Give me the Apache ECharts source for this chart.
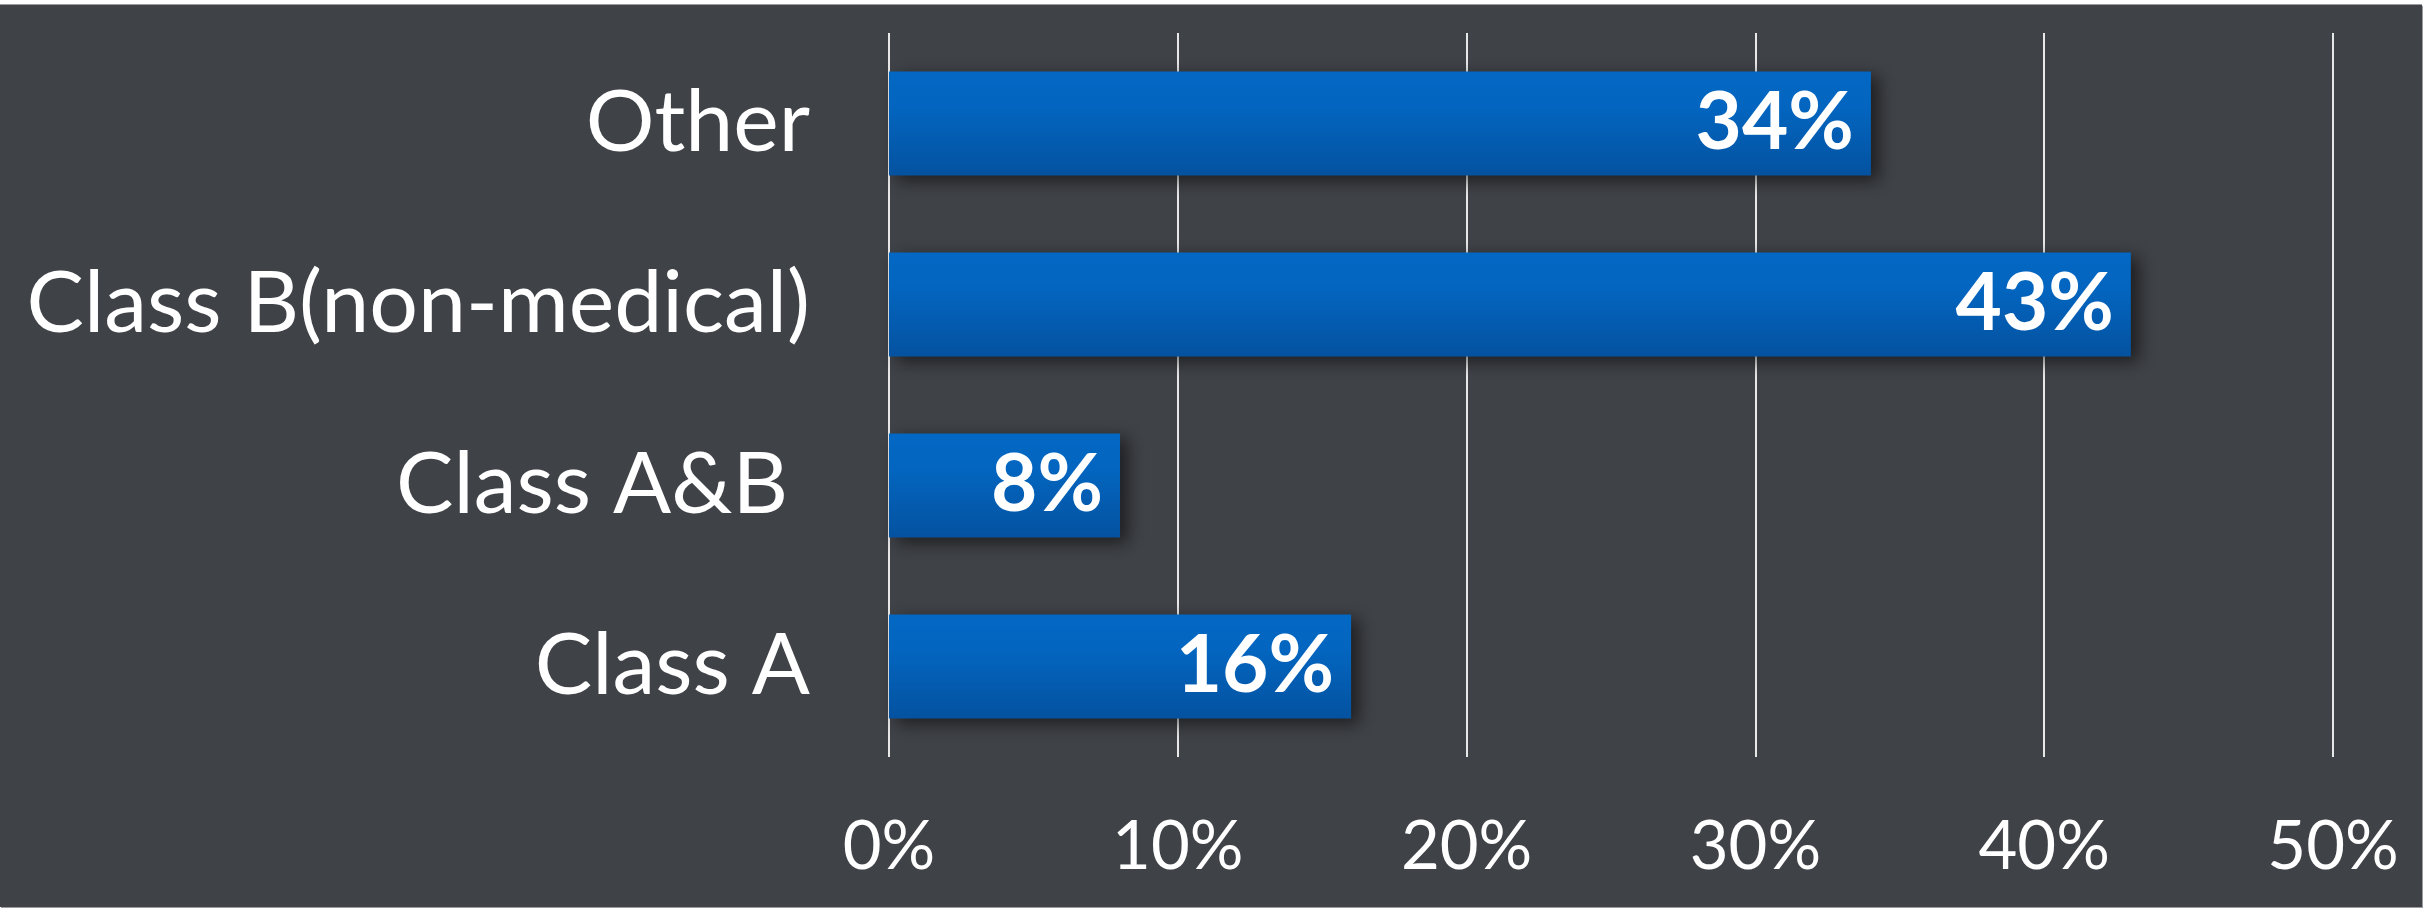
<!DOCTYPE html>
<html>
<head>
<meta charset="utf-8">
<script src="https://cdn.jsdelivr.net/npm/echarts@6/dist/echarts.min.js"></script>
<style>
  html, body { margin: 0; padding: 0; background: #ffffff; width: 2436px; height: 909px; overflow: hidden; }
  #chart { position: absolute; left: 0; top: 5px; width: 2422px; height: 902px;
           box-shadow: 1px 1px 0 #9a9ca0, 0 -1px 0 #9a9ca0; }
</style>
</head>
<body>
<div id="chart"></div>
<script>
// Share of respondents by licence class (bottom to top)
const categories = ['Class A', 'Class A&B ', 'Class B(non-medical)', 'Other'];
const shares = [16, 8, 43, 34];
const axisTicks = { min: 0, max: 50, interval: 10 };

const chart = echarts.init(document.getElementById('chart'), null, { renderer: 'canvas' });

chart.setOption({
  backgroundColor: '#3f4247',
  animation: false,
  grid: { left: 889, right: 89, top: 28, bottom: 150, containLabel: false },
  xAxis: {
    type: 'value',
    min: axisTicks.min,
    max: axisTicks.max,
    interval: axisTicks.interval,
    axisLine: { show: false },
    axisTick: { show: false },
    splitLine: { show: true, lineStyle: { color: '#e8e8e8', width: 2 } },
    axisLabel: {
      formatter: '{value}%',
      color: '#ffffff',
      fontFamily: 'Lato',
      fontSize: 67,
      margin: 57
    }
  },
  yAxis: {
    type: 'category',
    data: categories,
    axisLine: { show: false },
    axisTick: { show: false },
    splitLine: { show: false },
    axisLabel: {
      color: '#ffffff',
      fontFamily: 'Lato',
      fontSize: 86,
      margin: 79
    }
  },
  series: [{
    type: 'bar',
    data: shares,
    barCategoryGap: '42.5%',
    itemStyle: {
      color: new echarts.graphic.LinearGradient(0, 0, 0, 1, [
        { offset: 0, color: '#0368c4' },
        { offset: 0.35, color: '#0365bf' },
        { offset: 1, color: '#0452a0' }
      ]),
      shadowColor: 'rgba(0,0,0,0.55)',
      shadowBlur: 16,
      shadowOffsetX: 8,
      shadowOffsetY: 5
    },
    label: {
      show: true,
      position: 'insideRight',
      distance: 17,
      formatter: '{c}%',
      color: '#ffffff',
      fontFamily: 'Lato',
      fontWeight: 'bold',
      fontSize: 80
    }
  }]
});
</script>
</body>
</html>
